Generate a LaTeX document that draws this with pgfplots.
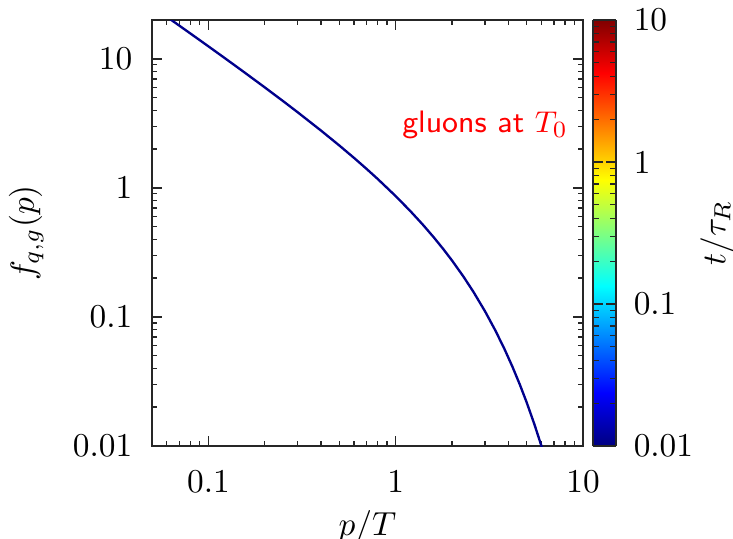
\documentclass[border=0pt]{standalone}
\usepackage{pgfplots}
\pgfplotsset{compat=1.18}

\definecolor{curveblue}{rgb}{0,0,0.55}
\definecolor{framegray}{gray}{0.15}

\begin{document}
\begin{tikzpicture}
% fixed canvas around the plot
\path[use as bounding box] (-45.6pt,-27.6pt) rectangle (174.3pt,133.8pt);
\begin{axis}[
  scale only axis,
  width=129.3pt, height=127.8pt,
  at={(0pt,0pt)}, anchor=south west,
  xmode=log, ymode=log,
  xmin=0.05, xmax=10,
  ymin=0.01, ymax=20,
  log ticks with fixed point,
  tick align=inside,
  xtick pos=both, ytick pos=both,
  major tick length=3pt,
  minor tick length=1.5pt,
  axis line style={framegray, line width=0.5pt},
  every tick/.style={framegray, line width=0.4pt},
  xticklabel style={yshift=-4pt},
  yticklabel style={xshift=-2.4pt},
  xlabel={$p/T$},
  ylabel={$f_{q,g}(p)$},
  xlabel style={at={(axis description cs:0.5,-0.19)}, anchor=center},
  ylabel style={at={(axis description cs:-0.292,0.5)}, anchor=center},
]
% gluon distribution at the initial temperature
\addplot[curveblue, line width=0.7pt, no markers] coordinates {
  (0.06,21.17) (0.07,18.08) (0.08,15.755) (0.1,12.506) (0.12,10.341)
  (0.15,8.176) (0.2,6.0125) (0.25,4.7159) (0.3,3.8525) (0.4,2.7756)
  (0.5,2.1319) (0.6,1.7051) (0.7,1.4018) (0.8,1.1760) (1.0,0.86350)
  (1.2,0.65920) (1.4,0.51662) (1.6,0.41256) (1.8,0.33407) (2.0,0.27342)
  (2.3,0.20549) (2.6,0.15652) (3.0,0.11048) (3.4,0.078911) (3.8,0.056823)
  (4.2,0.041154) (4.6,0.029928) (5.0,0.021828) (5.5,0.014756) (6.0,0.0099973)
  (6.3,0.0079208)
};
\node[red, anchor=center, font=\fontsize{9.3}{11}\selectfont] at (axis cs:3.0,3.05) {\textsf{gluons at} $T_0$};
\end{axis}

% colour scale for t/tau_R (log10 units from -2 to 1)
\begin{axis}[
  scale only axis,
  at={(132.3pt,0pt)}, anchor=south west,
  width=6.9pt, height=127.8pt,
  view={0}{90},
  xmin=0, xmax=1, ymin=-2, ymax=1,
  colormap/jet,
  point meta min=-2, point meta max=1,
  xtick=\empty,
  ytick={-2,-1,0,1},
  yticklabels={0.01,0.1,1,10},
  minor ytick={-1.69897,-1.52288,-1.39794,-1.30103,-1.22185,-1.15490,-1.09691,-1.04576,
               -0.69897,-0.52288,-0.39794,-0.30103,-0.22185,-0.15490,-0.09691,-0.04576,
               0.30103,0.47712,0.60206,0.69897,0.77815,0.84510,0.90309,0.95424},
  ytick pos=both,
  yticklabel pos=right,
  tick align=inside,
  major tick length=3pt,
  minor tick length=1.8pt,
  every tick/.style={framegray, line width=0.4pt},
  axis line style={framegray, line width=0.5pt},
  axis on top,
  yticklabel style={xshift=1.8pt},
  ylabel={$t/\tau_R$},
  ylabel style={at={(axis description cs:5.39,0.5)}, anchor=center, rotate=0},
]
\addplot3[surf, shader=interp, point meta=y] coordinates {
  (0,-2,0) (1,-2,0)

  (0,-1.625,0) (1,-1.625,0)

  (0,-1.25,0) (1,-1.25,0)

  (0,-0.875,0) (1,-0.875,0)

  (0,-0.5,0) (1,-0.5,0)

  (0,-0.125,0) (1,-0.125,0)

  (0,0.25,0) (1,0.25,0)

  (0,0.625,0) (1,0.625,0)

  (0,1,0) (1,1,0)
};
\end{axis}
\end{tikzpicture}
\end{document}
